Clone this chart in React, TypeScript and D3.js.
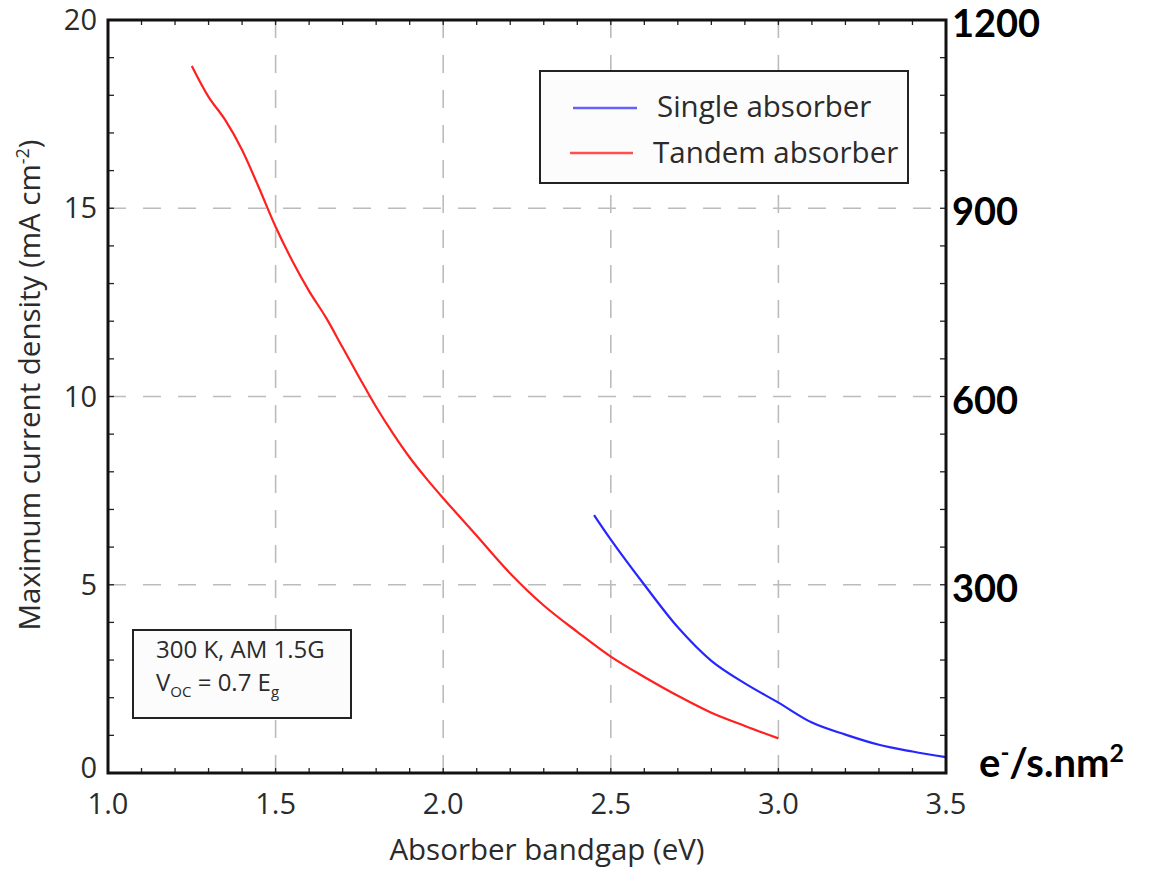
import React from "react";
import * as d3 from "d3";

// bandgap (eV) vs max current density (mA cm^-2)
const tandemGap = [1.25, 1.3, 1.35, 1.4, 1.45, 1.5, 1.55, 1.6, 1.65, 1.7, 1.75, 1.8, 1.85, 1.9, 1.95, 2.0, 2.1, 2.2, 2.3, 2.4, 2.5, 2.6, 2.7, 2.8, 2.9, 3.0];
const tandemJ = [18.78, 17.96, 17.34, 16.55, 15.55, 14.51, 13.6, 12.8, 12.1, 11.3, 10.5, 9.72, 9.02, 8.38, 7.82, 7.3, 6.3, 5.3, 4.45, 3.75, 3.09, 2.55, 2.05, 1.6, 1.25, 0.92];

const singleGap = [2.45, 2.5, 2.6, 2.7, 2.8, 2.9, 3.0, 3.1, 3.2, 3.3, 3.4, 3.5];
const singleJ = [6.85, 6.2, 5.0, 3.87, 2.98, 2.38, 1.87, 1.34, 1.02, 0.75, 0.57, 0.42];

const xMajor = [1.0, 1.5, 2.0, 2.5, 3.0, 3.5];
const yMajor = [0, 5, 10, 15, 20];
const rightTicks = [300, 600, 900, 1200];

const seriesNames = ["Single absorber", "Tandem absorber"];

const W = 1158, H = 871;
const left = 108, right = 946, top = 20, bottom = 773;

export default function App() {
  const x = d3.scaleLinear().domain([1.0, 3.5]).range([left, right]);
  const y = d3.scaleLinear().domain([0, 20]).range([bottom, top]);
  const yR = d3.scaleLinear().domain([0, 1200]).range([bottom, top]);

  const line = d3.line<[number, number]>()
    .x(d => x(d[0]))
    .y(d => y(d[1]))
    .curve(d3.curveCatmullRom.alpha(0.5));

  const tandem = tandemGap.map((g, i) => [g, tandemJ[i]] as [number, number]);
  const single = singleGap.map((g, i) => [g, singleJ[i]] as [number, number]);

  const xMinor = d3.range(11, 35).map(v => v / 10);
  const yMinor = d3.range(1, 20);

  const font = "'Open Sans', sans-serif";
  const bold = "Lato, sans-serif";
  const txt = "#2b2b2b";

  return (
    <svg width={W} height={H} style={{ position: "absolute", left: 0, top: 0, background: "#fff" }}>
      {/* grid */}
      <g stroke="#bcbcbc" strokeWidth={1.6} strokeDasharray="18 17">
        {xMajor.slice(1, -1).map(v => (
          <line key={"gx" + v} x1={x(v)} x2={x(v)} y1={top} y2={bottom} />
        ))}
        {yMajor.slice(1, -1).map(v => (
          <line key={"gy" + v} x1={left} x2={right} y1={y(v)} y2={y(v)} />
        ))}
      </g>

      {/* minor ticks on all four sides, pointing in */}
      <g stroke="#222" strokeWidth={1.3}>
        {xMinor.map(v => (
          <g key={"tx" + v}>
            <line x1={x(v)} x2={x(v)} y1={bottom} y2={bottom - 5} />
            <line x1={x(v)} x2={x(v)} y1={top} y2={top + 5} />
          </g>
        ))}
        {yMinor.map(v => (
          <g key={"ty" + v}>
            <line x1={left} x2={left + 6} y1={y(v)} y2={y(v)} />
            <line x1={right} x2={right - 6} y1={y(v)} y2={y(v)} />
          </g>
        ))}
      </g>

      {/* curves */}
      <path d={line(tandem) ?? ""} fill="none" stroke="#ff2020" strokeWidth={2.2} />
      <path d={line(single) ?? ""} fill="none" stroke="#2626ff" strokeWidth={2.2} />

      {/* frame */}
      <rect x={left} y={top} width={right - left} height={bottom - top} fill="none" stroke="#111" strokeWidth={3} />

      {/* left tick labels */}
      {yMajor.map(v => (
        <text key={"ly" + v} x={left - 11} y={y(v) + (v === 0 ? 5 : 10)} textAnchor="end" fontFamily={font} fontSize={29} fill={txt}>
          {v}
        </text>
      ))}
      {/* bottom tick labels */}
      {xMajor.map(v => (
        <text key={"lx" + v} x={x(v)} y={bottom + 41} textAnchor="middle" fontFamily={font} fontSize={29} fill={txt}>
          {v.toFixed(1)}
        </text>
      ))}

      {/* right axis, bold */}
      {rightTicks.map(v => (
        <text key={"lr" + v} x={right + 6} y={yR(v) + 17} fontFamily={bold} fontWeight="bold" fontSize={38} fill="#000">
          {v}
        </text>
      ))}
      <text x={979} y={777} fontFamily={bold} fontWeight="bold" fontSize={40} fill="#000">
        e<tspan dy={-16} fontSize={24}>-</tspan>
        <tspan dy={16}>/s.nm</tspan>
        <tspan dy={-15} fontSize={25}>2</tspan>
      </text>

      {/* axis titles */}
      <text x={547} y={860} textAnchor="middle" fontFamily={font} fontSize={29.5} fill={txt}>
        Absorber bandgap (eV)
      </text>
      <text transform={`translate(40, ${385}) rotate(-90)`} textAnchor="middle" fontFamily={font} fontSize={29.5} fill={txt}>
        Maximum current density (mA cm<tspan dy={-11} fontSize={18}>-2</tspan><tspan dy={11}>)</tspan>
      </text>

      {/* legend */}
      <rect x={540} y={71} width={368} height={112} fill="#fcfcfc" stroke="#222" strokeWidth={2} />
      <line x1={573} x2={637} y1={108} y2={108} stroke="#6262ff" strokeWidth={2.5} />
      <line x1={570} x2={633} y1={153} y2={153} stroke="#ff5050" strokeWidth={2.5} />
      <text x={657} y={117} fontFamily={font} fontSize={29.5} fill={txt}>{seriesNames[0]}</text>
      <text x={653} y={163} fontFamily={font} fontSize={29.5} fill={txt}>{seriesNames[1]}</text>

      {/* condition box */}
      <rect x={133} y={630} width={218} height={88} fill="#fcfcfc" stroke="#222" strokeWidth={2} />
      <text x={156} y={658} fontFamily={font} fontSize={24} fill={txt}>300 K, AM 1.5G</text>
      <text x={156} y={691} fontFamily={font} fontSize={24} fill={txt}>
        V<tspan dy={6} fontSize={15}>OC</tspan>
        <tspan dy={-6}> = 0.7 E</tspan>
        <tspan dy={6} fontSize={15}>g</tspan>
      </text>
    </svg>
  );
}
